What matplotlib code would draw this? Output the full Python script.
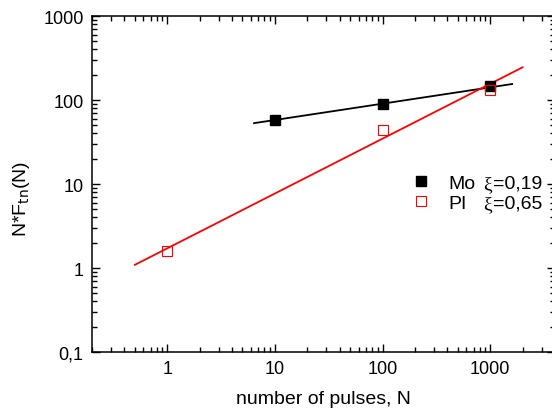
import matplotlib
matplotlib.use("Agg")
import matplotlib.pyplot as plt
from matplotlib.ticker import FixedLocator, FuncFormatter, NullFormatter

# measured points
mo_n = [10, 100, 1000]
mo_f = [58, 90, 145]
pi_n = [1, 100, 1000]
pi_f = [1.6, 44, 130]

# fitted power-law lines (end points)
mo_fit_n = [6.4, 1600]
mo_fit_f = [53, 155]
pi_fit_n = [0.5, 2000]
pi_fit_f = [1.09, 245]

names = ["Mo", "PI"]
xi_values = ["=0,19", "=0,65"]

x_ticks = [1, 10, 100, 1000]
y_ticks = [0.1, 1, 10, 100, 1000]


def fmt(v, pos):
  if v < 1:
    return ("%g" % v).replace(".", ",")
  return "%d" % v


def minor_locs(decades):
  return [m * d for d in decades for m in range(2, 10)]


def main():
  plt.rcParams.update({
    "font.family": ["Liberation Sans", "DejaVu Sans"],
    "font.size": 13,
    "axes.linewidth": 1.1,
    "xtick.minor.visible": True,
    "ytick.minor.visible": True,
  })
  fig = plt.figure(figsize=(5.52, 4.14), dpi=100)
  ax = fig.add_axes([92 / 552, 61 / 414, (555 - 92) / 552, (353 - 17) / 414])

  ax.plot(mo_fit_n, mo_fit_f, "-", color="black", linewidth=1.3)
  ax.plot(pi_fit_n, pi_fit_f, "-", color="red", linewidth=1.3)
  h1, = ax.plot(mo_n, mo_f, "s", color="black", markersize=7, linestyle="none")
  h2, = ax.plot(pi_n, pi_f, "s", markerfacecolor="none", markeredgecolor="red",
                markersize=7, markeredgewidth=0.8, linestyle="none")

  ax.set_xscale("log")
  ax.set_yscale("log")
  ax.set_xlim(0.2, 4000)
  ax.set_ylim(0.1, 1000)

  ax.xaxis.set_major_locator(FixedLocator(x_ticks))
  ax.yaxis.set_major_locator(FixedLocator(y_ticks))
  ax.xaxis.set_minor_locator(FixedLocator(minor_locs([0.1, 1, 10, 100, 1000])))
  ax.yaxis.set_minor_locator(FixedLocator(minor_locs([0.1, 1, 10, 100])))
  ax.xaxis.set_minor_formatter(NullFormatter())
  ax.yaxis.set_minor_formatter(NullFormatter())
  ax.xaxis.set_major_formatter(FuncFormatter(fmt))
  ax.yaxis.set_major_formatter(FuncFormatter(fmt))

  ax.tick_params(which="both", direction="in", top=True, right=True,
                 bottom=True, left=True, width=1.0, color="black")
  ax.tick_params(which="major", length=5.5, labelsize=13, pad=6)
  ax.tick_params(which="minor", length=3.5)

  ax.set_xlabel("number of pulses, N", fontsize=14, labelpad=9)
  ax.set_ylabel("N*F$_{\\mathrm{tn}}$(N)", fontsize=14, labelpad=8)
  ax.yaxis.label.set_y(0.46)

  ax.legend([h1, h2], names, loc="upper left",
            bbox_to_anchor=(0.652, 0.58), frameon=False,
            handlelength=1.0, handletextpad=0.9, labelspacing=0.12,
            fontsize=14)
  for i, s in enumerate(xi_values):
    y = 0.502 - i * 0.06
    ax.text(0.845, y, "\u03be", transform=ax.transAxes, fontsize=14,
            va="center", ha="left", family=["Liberation Serif", "DejaVu Serif"])
    ax.text(0.866, y, s, transform=ax.transAxes, fontsize=14,
            va="center", ha="left")

  fig.savefig("out.png", dpi=100)


if __name__ == "__main__":
  main()
